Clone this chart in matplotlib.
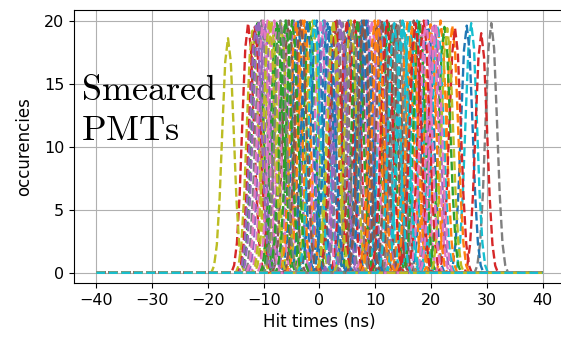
import numpy as np
import matplotlib.pyplot as plt

plt.rcParams['mathtext.fontset'] = 'cm'
plt.rcParams['xtick.labelsize'] = 11.5
plt.rcParams['ytick.labelsize'] = 11.5
plt.rcParams['axes.labelsize'] = 12

# peak position (ns) of each PMT hit-time histogram, in plotting order
centers = [5.2, -3.1, 12.4, -12.8, 8.7, 16.9, -6.4, 30.8, -16.4, 27.2,
           26.4, 21.7, -1.8, 29.0, 3.6, 10.2, -9.3, 14.5, -12.0, 0.7,
           19.4, 23.8, -7.7, 24.3, -4.6, 7.1, 18.2, -10.4, 2.3, 11.6,
           -0.5, 15.8, -11.1, 6.3, 20.6, -5.5, 9.4, 13.2, -8.6, 17.5,
           1.4, -2.7, 22.4, 4.9, -10.9, 12.9, 0.2, 8.1, -6.9, 16.2,
           -3.9, 19.9, 6.8, -11.6, 10.8, 3.1, -8.1, 14.1, -1.2, 21.2,
           7.6, -4.2, 17.9, 2.8, -9.8, 11.2, 20.3, -5.9, 5.6, 15.1,
           -2.2, 9.9, -7.3, 18.7, 0.9, 13.7, -10.1, 4.2, 22.9, -0.9,
           8.4, 16.6, -6.1, 12.1, 3.9, -3.4, 19.1, 6.0, -9.0, 14.9,
           1.8, 10.5, -4.9, 17.2, -11.4, 7.9, 20.9, -7.0, 2.5, 13.4]

# peak height (occurencies) of each histogram
heights = [20, 20, 19.8, 19.8, 20, 20, 19.5, 19.8, 18.6, 19.8,
           19.6, 20, 20, 19.0, 20, 19.7, 20, 20, 19.2, 20,
           20, 19.6, 19.8, 19.4, 20, 20, 19.7, 20, 19.5, 20,
           20, 20, 19.8, 20, 19.6, 20, 20, 19.7, 20, 20,
           19.8, 20, 19.5, 20, 20, 19.6, 20, 20, 19.8, 20,
           20, 19.7, 20, 19.5, 20, 20, 20, 19.8, 20, 19.6,
           20, 19.8, 20, 20, 19.7, 20, 19.5, 20, 20, 19.8,
           20, 20, 19.6, 20, 20, 19.7, 20, 19.8, 19.4, 20,
           20, 19.6, 20, 20, 19.8, 20, 20, 19.7, 20, 20,
           19.5, 20, 20, 19.8, 19.6, 20, 19.7, 20, 20, 19.8]

# shape of one peak: offset from centre (ns), fraction of peak
profile_dt = [-3.0, -2.5, -2.0, -1.5, -1.0, -0.5, 0.0, 0.5, 1.0, 1.5, 2.0, 2.5, 3.0]
profile_frac = [0.0, 0.03, 0.12, 0.32, 0.62, 0.9, 1.0, 0.9, 0.62, 0.32, 0.12, 0.03, 0.0]

t_min, t_max = -40, 40

fig = plt.figure(figsize=(5.61, 3.4), dpi=100)
# the original screenshot is cut off on the right, so the axes run past the edge
ax = fig.add_axes([0.132, 0.168, 0.875, 0.803])

dt = np.array(profile_dt)
frac = np.array(profile_frac)
for c, h in zip(centers, heights):
    x = np.concatenate(([t_min], c + dt, [t_max]))
    y = np.concatenate(([0], h * frac, [0]))
    ax.plot(x, y, '--', lw=1.7)

ax.set_xticks([-40, -30, -20, -10, 0, 10, 20, 30, 40])
ax.set_yticks([0, 5, 10, 15, 20])
ax.set_xlim(-44, 44)
ax.set_ylim(-0.8, 20.85)
ax.set_xlabel('Hit times (ns)')
ax.set_ylabel('occurencies', labelpad=7.5)
ax.grid(True)

ax.text(-42.8, 13.7, r'$\mathrm{Smeared}$', fontsize=26)
ax.text(-42.8, 10.5, r'$\mathrm{PMTs}$', fontsize=26)

fig.savefig('out.png', dpi=100)
